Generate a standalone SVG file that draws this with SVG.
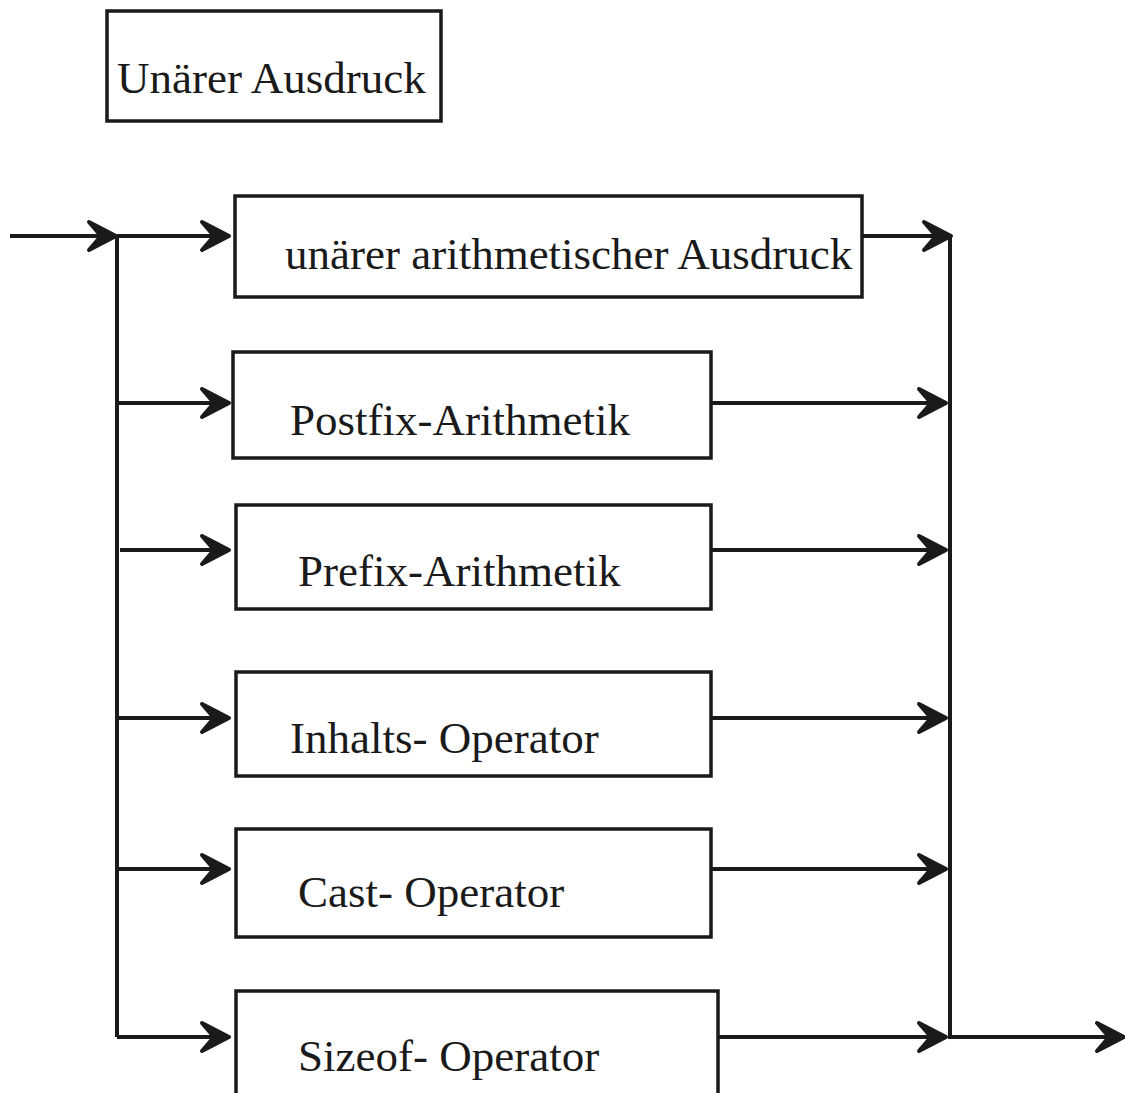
<svg xmlns="http://www.w3.org/2000/svg" width="1125" height="1093" viewBox="0 0 1125 1093">
<style>
.box{fill:#fff;stroke:#1a1a1a;stroke-width:3.5}
.lbl{font-family:"Liberation Serif","Times New Roman",serif;font-size:45px;fill:#1a1a1a}
.ln{fill:none;stroke:#1a1a1a;stroke-width:4;stroke-linecap:butt}
</style>
<defs>
<marker id="arr" viewBox="-34 -20 40 40" refX="0" refY="0" markerWidth="40" markerHeight="40" orient="auto" markerUnits="userSpaceOnUse" overflow="visible">
<path d="M0,0 L-27,-14 L-15,0 L-27,14 Z" fill="#1a1a1a" stroke="#1a1a1a" stroke-width="4" stroke-linejoin="round"/>
</marker>
</defs>
<rect width="1125" height="1093" fill="#fff"/>
<g id="connectors">
<path class="ln" d="M10,236 H116" marker-end="url(#arr)"/>
<path class="ln" d="M117,236 V1037"/>
<path class="ln" d="M117,236 H229" marker-end="url(#arr)"/>
<path class="ln" d="M117,403 H229" marker-end="url(#arr)"/>
<path class="ln" d="M120,550 H229" marker-end="url(#arr)"/>
<path class="ln" d="M117,718 H229" marker-end="url(#arr)"/>
<path class="ln" d="M117,869 H229" marker-end="url(#arr)"/>
<path class="ln" d="M117,1037 H229" marker-end="url(#arr)"/>
<path class="ln" d="M862,236 H951" marker-end="url(#arr)"/>
<path class="ln" d="M711,403 H946" marker-end="url(#arr)"/>
<path class="ln" d="M711,550 H946" marker-end="url(#arr)"/>
<path class="ln" d="M711,718 H946" marker-end="url(#arr)"/>
<path class="ln" d="M711,869 H946" marker-end="url(#arr)"/>
<path class="ln" d="M718,1037 H946" marker-end="url(#arr)"/>
<path class="ln" d="M950,236 V1037 H1124" marker-end="url(#arr)"/>
</g>
<g id="title">
<rect class="box" x="107" y="11" width="334" height="110"/>
<text class="lbl" x="117" y="93">Unärer Ausdruck</text>
</g>
<g id="n1">
<rect class="box" x="235" y="196" width="627" height="101"/>
<text class="lbl" x="285" y="269">unärer arithmetischer Ausdruck</text>
</g>
<g id="n2">
<rect class="box" x="233" y="352" width="478" height="106"/>
<text class="lbl" x="290" y="435">Postfix-Arithmetik</text>
</g>
<g id="n3">
<rect class="box" x="236" y="505" width="475" height="104"/>
<text class="lbl" x="298" y="586">Prefix-Arithmetik</text>
</g>
<g id="n4">
<rect class="box" x="236" y="672" width="475" height="104"/>
<text class="lbl" x="290" y="753">Inhalts- Operator</text>
</g>
<g id="n5">
<rect class="box" x="236" y="829" width="475" height="108"/>
<text class="lbl" x="298" y="907">Cast- Operator</text>
</g>
<g id="n6">
<rect class="box" x="236" y="991" width="482" height="120"/>
<text class="lbl" x="298" y="1071">Sizeof- Operator</text>
</g>
</svg>
